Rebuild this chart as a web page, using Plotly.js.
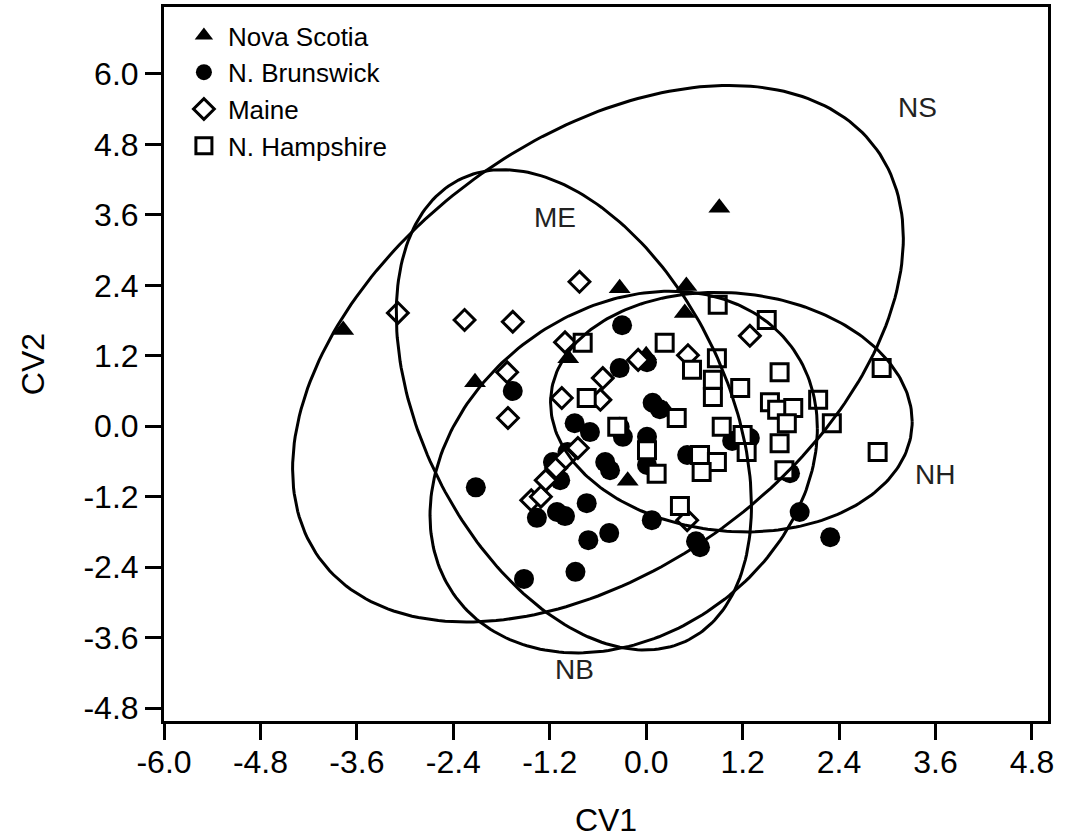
<!DOCTYPE html>
<html>
<head>
<meta charset="utf-8">
<script src="https://cdn.plot.ly/plotly-3.0.1.min.js"></script>
<style>body{margin:0;background:#fff}</style>
</head>
<body>
<div id="chart" style="width:1071px;height:838px"></div>
<script>
// ---- data ----
const groupNames = ["Nova Scotia", "N. Brunswick", "Maine", "N. Hampshire"];

const nsX = [-3.77, -2.13, -0.97, -0.33, 0.50, 0.48, 0.91, 0.00, -0.23, 0.25];
const nsY = [1.64, 0.75, 1.16, 2.35, 2.39, 1.93, 3.72, 1.21, -0.93, 0.27];

const nbX = [-1.66, -2.12, -1.52, -0.88, -0.72, -0.46, -0.74, -1.36, -1.11, -1.01, 0.07, 0.62, 0.67, 2.29, 1.91, 1.79, 1.29, 1.07, -0.30, -0.33, 0.01, 0.08, 0.17, -0.89, -0.70, -0.33, -0.29, 0.01, 0.01, -0.51, -0.45, 0.51, 0.63, -1.16, -0.98, -1.07];
const nbY = [0.60, -1.04, -2.60, -2.48, -1.94, -1.82, -1.31, -1.56, -1.46, -1.53, -1.60, -1.96, -2.06, -1.89, -1.46, -0.80, -0.20, -0.25, 1.72, 0.99, 1.09, 0.40, 0.29, 0.05, -0.10, -0.01, -0.18, -0.18, -0.66, -0.61, -0.75, -0.49, -0.52, -0.61, -0.44, -0.92];

const meX = [-3.09, -2.26, -1.66, -1.73, -1.72, -0.83, -1.01, -0.54, -1.05, -0.57, -0.10, 0.52, 1.29, -1.43, -1.31, -1.25, -1.12, -1.00, -0.85, 0.51];
const meY = [1.93, 1.81, 1.78, 0.92, 0.14, 2.46, 1.43, 0.82, 0.48, 0.45, 1.13, 1.21, 1.54, -1.26, -1.20, -0.92, -0.71, -0.54, -0.37, -1.60];

const nhX = [-0.79, 0.23, 0.89, 1.50, 0.57, 0.88, 0.83, 0.83, 1.17, 1.66, 1.54, 1.63, 1.83, 1.75, 2.14, 2.31, 2.93, 2.88, -0.74, 0.38, -0.36, 0.01, 0.94, 1.20, 1.66, 1.25, 0.67, 0.88, 0.69, 0.13, 0.42, 1.72];
const nhY = [1.42, 1.42, 2.07, 1.81, 0.96, 1.16, 0.79, 0.50, 0.65, 0.92, 0.41, 0.28, 0.31, 0.05, 0.45, 0.05, 0.99, -0.44, 0.48, 0.14, -0.01, -0.41, -0.01, -0.15, -0.29, -0.44, -0.49, -0.61, -0.78, -0.81, -1.36, -0.75];

// ellipse parameters: centre, half-width, half-height, correlation
const ellNames = ["NS", "ME", "NB", "NH"];
const ellCx = [-0.60, -0.90, -0.28, 1.06];
const ellCy = [1.235, 0.28, -0.78, 0.24];
const ellHw = [3.80, 2.21, 2.41, 2.25];
const ellHh = [4.57, 4.09, 3.08, 2.04];
const ellR  = [0.43, -0.40, 0.24, -0.08];

// ellipse label positions
const labelX = [3.38, -1.135, -0.886, 3.593];
const labelY = [5.42, 3.56, -4.15, -0.83];

// ticks
const xTickVals = [-6.0, -4.8, -3.6, -2.4, -1.2, 0.0, 1.2, 2.4, 3.6, 4.8];
const xTickText = ["-6.0", "-4.8", "-3.6", "-2.4", "-1.2", "0.0", "1.2", "2.4", "3.6", "4.8"];
const yTickVals = [-4.8, -3.6, -2.4, -1.2, 0.0, 1.2, 2.4, 3.6, 4.8, 6.0];
const yTickText = ["-4.8", "-3.6", "-2.4", "-1.2", "0.0", "1.2", "2.4", "3.6", "4.8", "6.0"];

// ---- build ----
const FONT = "Liberation Sans, Arial, Helvetica, sans-serif";
const traces = [];

traces.push({type:"scatter", mode:"markers", name:groupNames[0], x:nsX, y:nsY,
  marker:{symbol:"triangle-up", size:19, color:"#000", line:{width:0}}});
traces.push({type:"scatter", mode:"markers", name:groupNames[1], x:nbX, y:nbY,
  marker:{symbol:"circle", size:20, color:"#000", line:{width:0}}});
traces.push({type:"scatter", mode:"markers", name:groupNames[2], x:meX, y:meY,
  marker:{symbol:"diamond", size:16, color:"#fff", line:{width:3, color:"#000"}}});
traces.push({type:"scatter", mode:"markers", name:groupNames[3], x:nhX, y:nhY,
  marker:{symbol:"square", size:17, color:"#fff", line:{width:3, color:"#000"}}});

const N = 240;
for (let k = 0; k < ellNames.length; k++) {
  const ex = [], ey = [];
  const s = Math.sqrt(1 - ellR[k] * ellR[k]);
  for (let i = 0; i <= N; i++) {
    const t = 2 * Math.PI * i / N;
    ex.push(ellCx[k] + ellHw[k] * Math.cos(t));
    ey.push(ellCy[k] + ellHh[k] * (ellR[k] * Math.cos(t) + s * Math.sin(t)));
  }
  traces.push({type:"scatter", mode:"lines", x:ex, y:ey, showlegend:false,
    hoverinfo:"skip", line:{color:"#000", width:3}});
}

const annotations = ellNames.map((n, k) => ({
  x: labelX[k], y: labelY[k], xref:"x", yref:"y", text:n, showarrow:false,
  font:{family:FONT, size:28, color:"#222"}
}));

const layout = {
  width:1071, height:838,
  margin:{l:164, r:23, t:7, b:117, pad:0},
  paper_bgcolor:"#fff", plot_bgcolor:"#fff",
  font:{family:FONT, color:"#000"},
  showlegend:true,
  legend:{x:0.018, y:0.993, xanchor:"left", yanchor:"top", bgcolor:"rgba(0,0,0,0)",
    font:{family:FONT, size:26, color:"#000"}, tracegroupgap:0, itemsizing:"trace", itemwidth:38},
  xaxis:{range:[-6, 5], tickvals:xTickVals, ticktext:xTickText, showgrid:false, zeroline:false,
    showline:true, linewidth:3, linecolor:"#000", mirror:true,
    ticks:"outside", ticklen:16, tickwidth:3, tickcolor:"#000", ticklabelstandoff:-5,
    tickfont:{family:FONT, size:32, color:"#000"},
    title:{text:"CV1", font:{family:FONT, size:32, color:"#000"}, standoff:32}},
  yaxis:{range:[-5.02, 7.14], tickvals:yTickVals, ticktext:yTickText, showgrid:false, zeroline:false,
    showline:true, linewidth:3, linecolor:"#000", mirror:true,
    ticks:"outside", ticklen:16, tickwidth:3, tickcolor:"#000",
    tickfont:{family:FONT, size:32, color:"#000"},
    title:{text:"CV2", font:{family:FONT, size:32, color:"#000"}, standoff:30}},
  annotations: annotations
};

Plotly.newPlot("chart", traces, layout, {displayModeBar:false, staticPlot:true});
</script>
</body>
</html>
